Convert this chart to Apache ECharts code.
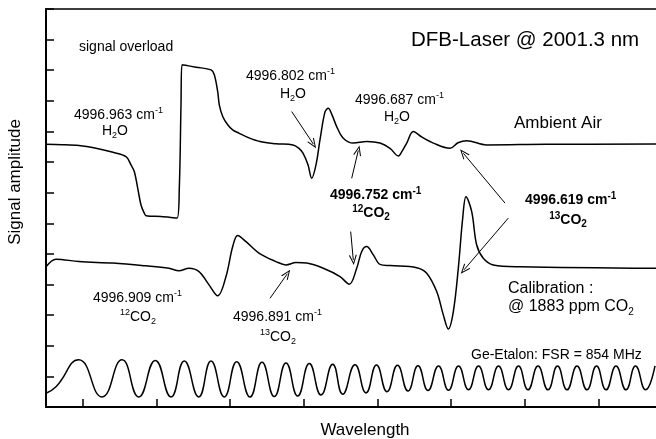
<!DOCTYPE html>
<html>
<head>
<meta charset="utf-8">
<script src="https://cdn.jsdelivr.net/npm/echarts@6/dist/echarts.min.js"></script>
<style>
html, body { margin: 0; padding: 0; background: #fff; }
#chart { width: 656px; height: 439px; }
</style>
</head>
<body>
<div id="chart"></div>
<script>
// x: relative wavelength (arb. units), y: signal amplitude (arb. units)
const ambientAir = [
  [0, 8.58], [16, 8.57], [33, 8.54], [50, 8.45], [67, 8.32], [80, 8.18], [85, 7.91], [88.3, 7.69],
  [91.7, 7.15], [95, 6.60], [98.3, 6.33], [100, 6.25], [115, 6.22], [131, 6.17], [133.3, 7.15],
  [135, 9.87], [136, 11.18], [150, 11.10], [165, 11.01], [168.3, 10.85], [171.7, 10.30], [173.3, 9.87],
  [176.7, 9.49], [181.7, 9.22], [186.7, 9.05], [193.3, 8.94], [200, 8.83], [214, 8.67], [230, 8.60],
  [247, 8.56], [253, 8.45], [257, 8.29], [262, 7.91], [265.7, 7.47], [270, 7.91], [274, 8.73],
  [279, 9.64], [282.3, 9.76], [286, 9.54], [290.7, 9.16], [297.3, 8.78], [307.3, 8.62], [320.7, 8.67],
  [334, 8.62], [344, 8.45], [352.3, 8.20], [356, 8.35], [360.7, 8.62], [367.3, 9.00], [375.7, 8.82],
  [387.3, 8.62], [404, 8.45], [412, 8.63], [420.7, 8.70], [440.7, 8.56], [500, 8.58], [610, 8.59]
];

const calibration = [
  [0, 4.58], [10, 4.83], [33, 4.75], [67, 4.70], [100, 4.61], [123, 4.53], [133, 4.45], [143, 4.53],
  [153, 4.42], [163, 3.99], [171.7, 3.63], [180, 4.26], [186.7, 5.24], [191.7, 5.60], [200, 5.40],
  [213.3, 5.02], [230, 4.75], [240, 4.64], [250, 4.72], [260.7, 4.70], [277.3, 4.53], [294, 4.26],
  [303.3, 4.01], [310.7, 4.53], [315.7, 5.08], [320.7, 5.24], [327.3, 4.97], [334, 4.66], [344, 4.62],
  [370.7, 4.55], [380.7, 4.37], [390.7, 3.77], [397.3, 3.01], [402.3, 2.55], [407.3, 3.11],
  [412.3, 4.53], [416.7, 6.17], [420, 6.87], [425.7, 6.38], [430.7, 5.29], [437.3, 4.86],
  [447.3, 4.64], [474, 4.58], [610, 4.53]
];

const etalon = [
  [0, 0.45], [10, 0.66], [32.7, 1.54], [56, 0.33], [76, 1.54], [92.7, 0.33], [109.3, 1.52], [125, 0.33],
  [138.3, 1.50], [152.7, 0.33], [165, 1.50], [178.3, 0.33], [190.7, 1.48], [204, 0.33], [216, 1.46],
  [228.3, 0.34], [240, 1.44], [251.7, 0.36], [263.3, 1.42], [275, 0.39], [286.7, 1.40], [296.7, 0.42],
  [309, 1.38], [320, 0.46], [330.5, 1.37], [341, 0.50], [351.5, 1.36], [362, 0.52], [372, 1.35],
  [382, 0.54], [392.5, 1.34], [402.5, 0.55], [412.5, 1.34], [422.5, 0.56], [432.5, 1.34], [442.5, 0.56],
  [452.5, 1.34], [462.5, 0.56], [472.5, 1.34], [482, 0.56], [492, 1.34], [502, 0.56], [511.5, 1.34],
  [521, 0.56], [531, 1.34], [541, 0.56], [550.5, 1.34], [560, 0.56], [570, 1.34], [580, 0.56],
  [589.5, 1.34], [599.5, 0.56], [609, 1.34]
];

const xTicks = [36.7, 110.4, 184.1, 257.8, 331.5, 405.2, 478.9, 552.6];

// annotation arrows: [from, to] in data units
const arrows = [
  [[245.7, 9.65], [267.3, 8.59]],
  [[305.7, 7.47], [312.3, 8.38]],
  [[459, 6.66], [417.3, 8.29]],
  [[462.3, 6.17], [418, 4.48]],
  [[304.7, 5.73], [307.3, 4.80]],
  [[224, 3.55], [241.3, 4.35]]
];

const FONT = '"Liberation Sans", Arial, Helvetica, sans-serif';

// thin open arrowhead (pointing up, markLine rotates it along the line)
const OPEN_ARROW = 'path://M0,10 L5,0 L10,10 L8.6,10 L5,2.6 L1.4,10 Z';

const rich = {
  n: { fontFamily: FONT, fontSize: 14, lineHeight: 18, verticalAlign: 'middle', fill: '#000' },
  sup: { fontFamily: FONT, fontSize: 9, lineHeight: 9, verticalAlign: 'top', fill: '#000' },
  sub: { fontFamily: FONT, fontSize: 9, lineHeight: 9, verticalAlign: 'bottom', fill: '#000' },
  b: { fontFamily: FONT, fontSize: 14, fontWeight: 'bold', lineHeight: 18, verticalAlign: 'middle', fill: '#000' },
  bsup: { fontFamily: FONT, fontSize: 10, fontWeight: 'bold', lineHeight: 9, verticalAlign: 'top', fill: '#000' },
  bsub: { fontFamily: FONT, fontSize: 10, fontWeight: 'bold', lineHeight: 9, verticalAlign: 'bottom', fill: '#000' },
  L: { fontFamily: FONT, fontSize: 16, lineHeight: 20, verticalAlign: 'middle', fill: '#000' },
  Lsub: { fontFamily: FONT, fontSize: 10, lineHeight: 10, verticalAlign: 'bottom', fill: '#000' },
  A: { fontFamily: FONT, fontSize: 17, lineHeight: 20, verticalAlign: 'middle', fill: '#000' },
  T: { fontFamily: FONT, fontSize: 20.5, lineHeight: 24, verticalAlign: 'middle', fill: '#000' }
};

function label(text, x, y, align) {
  return {
    type: 'text', x: x, y: y, silent: true, z: 100,
    style: { text: text, rich: rich, align: align || 'left', verticalAlign: 'middle' }
  };
}

const labels = [
  label('{T|DFB-Laser @ 2001.3 nm}', 411, 40),
  label('{n|signal overload}', 79, 47),
  label('{n|4996.963 cm}{sup|-1}', 74, 115),
  label('{n|H}{sub|2}{n|O}', 115, 131, 'center'),
  label('{n|4996.802 cm}{sup|-1}', 246, 76),
  label('{n|H}{sub|2}{n|O}', 293, 94, 'center'),
  label('{n|4996.687 cm}{sup|-1}', 355, 100),
  label('{n|H}{sub|2}{n|O}', 397, 117, 'center'),
  label('{A|Ambient Air}', 514, 123),
  label('{b|4996.752 cm}{bsup|-1}', 330, 195),
  label('{bsup|12}{b|CO}{bsub|2}', 371, 213, 'center'),
  label('{b|4996.619 cm}{bsup|-1}', 525, 200),
  label('{bsup|13}{b|CO}{bsub|2}', 568, 220, 'center'),
  label('{L|Calibration :}', 508, 289),
  label('{L|@ 1883 ppm CO}{Lsub|2}', 508, 307),
  label('{n|4996.909 cm}{sup|-1}', 93, 298),
  label('{sup|12}{n|CO}{sub|2}', 138, 317, 'center'),
  label('{n|4996.891 cm}{sup|-1}', 233, 317),
  label('{sup|13}{n|CO}{sub|2}', 278, 337, 'center'),
  label('{n|Ge-Etalon: FSR = 854 MHz}', 471, 355),
  label('{A|Wavelength}', 365, 430, 'center'),
  Object.assign(label('{A|Signal amplitude}', 15, 182, 'center'), { rotation: Math.PI / 2 })
];

const traceStyle = { color: '#000', width: 1.5 };

const chart = echarts.init(document.getElementById('chart'));
chart.setOption({
  animation: false,
  backgroundColor: '#fff',
  grid: { left: 46, right: 0, top: 9, bottom: 32 },
  xAxis: [{
    type: 'value', min: 0, max: 610,
    axisLine: { onZero: false, lineStyle: { color: '#000', width: 2 } },
    axisTick: { inside: true, length: 8, customValues: xTicks, lineStyle: { color: '#000', width: 1.5 } },
    axisLabel: { show: false },
    splitLine: { show: false }
  }, {
    type: 'value', position: 'top', min: 0, max: 610,
    axisLine: { onZero: false, lineStyle: { color: '#000', width: 1.5 } },
    axisTick: { show: false }, axisLabel: { show: false }, splitLine: { show: false }
  }],
  yAxis: {
    type: 'value', min: 0, max: 13, interval: 1,
    axisLine: { show: true, onZero: false, lineStyle: { color: '#000', width: 2 } },
    axisTick: { show: true, inside: true, length: 8, lineStyle: { color: '#000', width: 1.5 } },
    axisLabel: { show: false },
    splitLine: { show: false }
  },
  series: [{
    type: 'line', data: ambientAir, showSymbol: false, smooth: 0.35,
    lineStyle: traceStyle
  }, {
    type: 'line', data: calibration, showSymbol: false, smooth: 0.35,
    lineStyle: traceStyle
  }, {
    type: 'line', data: etalon, showSymbol: false, smooth: 0.5,
    lineStyle: traceStyle,
    markLine: {
      silent: true, symbol: ['none', OPEN_ARROW], symbolSize: [8, 10],
      label: { show: false },
      itemStyle: { color: '#000' },
      lineStyle: { color: '#000', width: 1, type: 'solid' },
      data: arrows.map(a => [{ coord: a[0] }, { coord: a[1] }])
    }
  }],
  graphic: labels
});
</script>
</body>
</html>
